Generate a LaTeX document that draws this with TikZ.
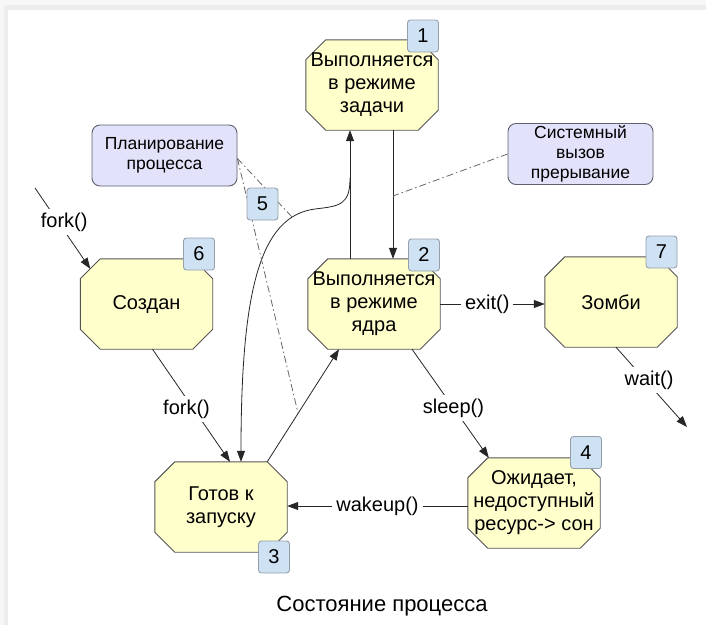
\documentclass[tikz,border=0pt]{standalone}
\usepackage{fontspec}
\setmainfont{Liberation Sans}
\usepackage{xcolor}
\usepackage{tikz}
\usetikzlibrary{arrows.meta, positioning, calc, backgrounds}
\definecolor{StateFill}{RGB}{255, 255, 204}
\definecolor{StateLine}{RGB}{85, 85, 85}
\definecolor{NoteFill}{RGB}{226, 226, 250}
\definecolor{NoteLine}{RGB}{95, 95, 110}
\definecolor{BadgeFill}{RGB}{206, 226, 243}
\definecolor{BadgeLine}{RGB}{150, 160, 172}
\newcommand\statefont{\fontsize{20}{23}\selectfont}
\newcommand\notefont{\fontsize{17.5}{20}\selectfont}
\newcommand\capfont{\fontsize{22}{26}\selectfont}
\tikzset{
  state/.style={minimum width=132pt, minimum height=90pt, inner sep=0pt,
    align=center, font=\statefont},
  octline/.style={draw=StateLine, fill=StateFill, line width=0.9pt},
  note/.style={draw=NoteLine, fill=NoteFill, rounded corners=8pt,
    minimum width=145pt, minimum height=61pt, inner sep=0pt,
    align=center, font=\notefont, line width=0.9pt},
  badge/.style={draw=BadgeLine, fill=BadgeFill, rounded corners=3pt,
    minimum width=31pt, minimum height=32pt, inner sep=0pt,
    font=\statefont, line width=0.9pt},
  arr/.style={draw=black!85, line width=0.8pt, -{Triangle[length=11pt, width=8pt]}},
  hint/.style={draw=black!60, line width=0.8pt,
    dash pattern=on 7pt off 3pt on 1.5pt off 3pt},
  lbl/.style={fill=white, inner sep=4pt, font=\statefont}
}

\begin{document}
\begin{tikzpicture}[x=1pt, y=-1pt]
  \useasboundingbox (0,0) rectangle (706,625);

  % states
  \node[state] (user)    at (372,85)    {Выполняется\\в режиме\\задачи};
  \node[state] (kernel)  at (374,304)   {Выполняется\\в режиме\\ядра};
  \node[state] (zombie)  at (611,302)   {Зомби};
  \node[state] (created) at (146.5,304) {Создан};
  \node[state] (ready)   at (221,507)   {Готов к\\запуску};
  \node[state] (asleep)  at (534,503)   {Ожидает,\\недоступный\\ресурс-> сон};

  % notes
  \node[note] (plan) at (164.5,155.5) {Планирование\\процесса};
  \node[note] (sys)  at (580.5,154)   {Системный\\вызов\\прерывание};

  % transitions
  \coordinate (upx) at (350,0);
  \coordinate (downx) at (393,0);
  \coordinate (prx) at (241,0);
  \coordinate (preempt) at (350,178);
  \draw[arr] (kernel.north -| upx) -- (user.south -| upx);
  \draw[arr] (user.south -| downx) -- (kernel.north -| downx);
  \draw[arr] (preempt) .. controls (350,205) and (340,206) .. (315,209)
    .. controls (260,216) and (241,290) .. (ready.north -| prx);

  \coordinate (born) at (35,188);
  \coordinate (gone) at (687,427);
  \draw[arr] (born) -- node[lbl, pos=0.42, xshift=6pt] {fork()}
    ([xshift=10pt, yshift=-10pt]created.north west);
  \draw[arr] ([xshift=6pt]created.south) -- node[lbl, pos=0.53, xshift=-7pt] {fork()}
    ([xshift=9pt]ready.north);
  \draw[arr] ([xshift=-20pt]ready.north east) -- ([xshift=-35pt]kernel.south);
  \draw[arr] ([xshift=38pt]kernel.south) -- node[lbl, pos=0.54] {sleep()}
    ([xshift=21pt]asleep.north west);
  \draw[arr] (kernel.east) -- node[lbl, pos=0.45] {exit()} (kernel.east -| zombie.west);
  \draw[arr] ([yshift=-3pt]asleep.west) -- node[lbl] {wakeup()}
    ([yshift=-3pt]asleep.west -| ready.east);
  \draw[arr] ([xshift=5pt]zombie.south) -- node[lbl, pos=0.41, xshift=4pt] {wait()} (gone);

  % note pointers
  \coordinate (hintA) at (292,217);
  \coordinate (hintB) at (298,413);
  \coordinate (hintC) at (393,196);
  \draw[hint] ([yshift=-3pt]plan.east) -- (hintA);
  \draw[hint] ([yshift=-3pt]plan.east) -- (hintB);
  \draw[hint] (sys.west) -- (hintC);

  % numbers
  \node[badge] (n1) at (423,36)    {1};
  \node[badge] (n2) at (424,255)   {2};
  \node[badge] (n3) at (274,557)   {3};
  \node[badge] (n4) at (586,452.5) {4};
  \node[badge] (n5) at (262.5,204) {5};
  \node[badge] (n6) at (199,254)   {6};
  \node[badge] (n7) at (661.5,252) {7};

  \node[font=\capfont] (title) at (382,606) {Состояние процесса};

  \begin{scope}[on background layer]
    \fill[black!3] (0,0) rectangle (706,625);
    \fill[black!7] (4,5) rectangle (706,625);
    \fill[white] (8,10) rectangle (706,625);
    \foreach \s in {user, kernel, zombie, created, ready, asleep}
      \draw[octline] ([xshift=20pt]\s.north west) -- ([xshift=-20pt]\s.north east)
        -- ([yshift=-20pt]\s.north east) -- ([yshift=20pt]\s.south east)
        -- ([xshift=-20pt]\s.south east) -- ([xshift=20pt]\s.south west)
        -- ([yshift=20pt]\s.south west) -- ([yshift=-20pt]\s.north west) -- cycle;
  \end{scope}
\end{tikzpicture}
\end{document}
